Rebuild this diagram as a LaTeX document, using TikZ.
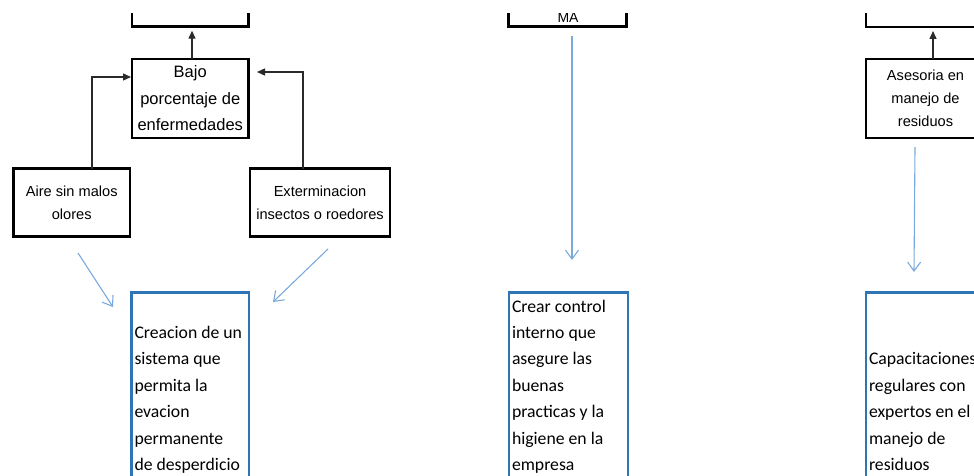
\documentclass[tikz,border=0pt]{standalone}
\usepackage{fontspec}
\setmainfont{Liberation Sans}
\newfontfamily\calibri{Carlito}
\usetikzlibrary{arrows.meta}
\definecolor{boxblue}{HTML}{2E75B6}
\definecolor{arrblue}{HTML}{7AAADC}
\definecolor{linegray}{HTML}{2A2A2A}
\begin{document}
\begin{tikzpicture}[x=1pt,y=-1pt,
  blkbox/.style={draw=black, line width=2.4pt, rectangle, inner sep=0pt, outer sep=0pt, align=center},
  smallfont/.style={font=\fontsize{14.6}{23}\selectfont},
  bigfont/.style={font=\fontsize{16.5}{26.5}\selectfont},
  bluebox/.style={draw=boxblue, line width=2.2pt, rectangle, inner xsep=3pt, inner ysep=0pt, outer sep=0pt, align=flush left, font=\calibri\fontsize{17.7}{26.4}\selectfont},
  blkarrow/.style={draw=linegray, line width=1.3pt, -{Triangle[length=8pt,width=7pt]}},
  bluearrow/.style={draw=arrblue, line width=1.1pt, -{Straight Barb[length=9pt,width=13pt]}}
]
\useasboundingbox (0,0) rectangle (974,476);
\clip (0,0) rectangle (974,476);
\fill[white] (0,0) rectangle (974,476);

% top boxes, cut off at the top
\begin{scope}
\clip (0,14) rectangle (974,60);
\node[blkbox, minimum width=116.5, minimum height=60, anchor=south west] (topL) at (132,26.7) {};
\node[blkbox, minimum width=118, minimum height=60, anchor=south west] (topM) at (508.5,26.7) {};
\node[blkbox, minimum width=150, minimum height=60, anchor=south west] (topR) at (866,27) {};
\node[font=\fontsize{14}{17}\selectfont, anchor=base, inner sep=0pt] (maT) at (568,22.5) {MA};
\end{scope}

% black boxes
\node[blkbox, bigfont, minimum width=116.5, minimum height=79] (bajo) at (190.25,98.5) {Bajo\\porcentaje de\\enfermedades};
\node[blkbox, smallfont, minimum width=116.5, minimum height=68] (aire) at (71.75,202.5) {Aire sin malos\\olores};
\node[blkbox, smallfont, minimum width=140, minimum height=68] (ext) at (320,202.5) {Exterminacion\\insectos o roedores};
\node[blkbox, smallfont, minimum width=119, minimum height=79] (ases) at (925.5,98.5) {Asesoria en\\manejo de\\residuos};

% blue boxes
\node[bluebox, text width=111.5, minimum width=117.5, minimum height=213.4] (crea) at (190.25,399.2)
  {\strut Creacion de un\\sistema que\\permita la\\evacion\\permanente\\de desperdicio\strut};
\node[bluebox, text width=113, minimum width=119, minimum height=187.0] (ctrl) at (568.5,386.0)
  {\strut Crear control\\interno que\\asegure las\\buenas\\practicas y la\\higiene en la\\empresa\strut};
\node[bluebox, text width=138, minimum width=144, minimum height=239.84] (capa) at (938,412.42)
  {\strut Capacitaciones\\regulares con\\expertos en el\\manejo de\\residuos\strut};

% black connectors
\draw[blkarrow, shorten >=4pt] ([xshift=1.75pt]bajo.north) -- ([xshift=1.75pt]bajo.north |- topL.south);
\draw[blkarrow, shorten >=4pt] ([xshift=7.5pt]ases.north) -- ([xshift=7.5pt]ases.north |- topR.south);
\draw[blkarrow, shorten >=1pt] ([xshift=20.25pt]aire.north) |- ([yshift=21.5pt]bajo.west);
\draw[blkarrow] ([xshift=-17pt]ext.north) |- ([xshift=8.5pt,yshift=26.5pt]bajo.east);

% blue arrows
\coordinate (p1) at (78,253); \coordinate (q1) at (113,307);
\coordinate (p2) at (328,249); \coordinate (q2) at (273,302);
\coordinate (p3) at (572,36);  \coordinate (q3) at (572,260);
\coordinate (p4) at (915,147); \coordinate (q4) at (914,272);
\draw[bluearrow] (p1) -- (q1);
\draw[bluearrow] (p2) -- (q2);
\draw[bluearrow] (p3) -- (q3);
\draw[bluearrow] (p4) -- (q4);
\end{tikzpicture}
\end{document}
